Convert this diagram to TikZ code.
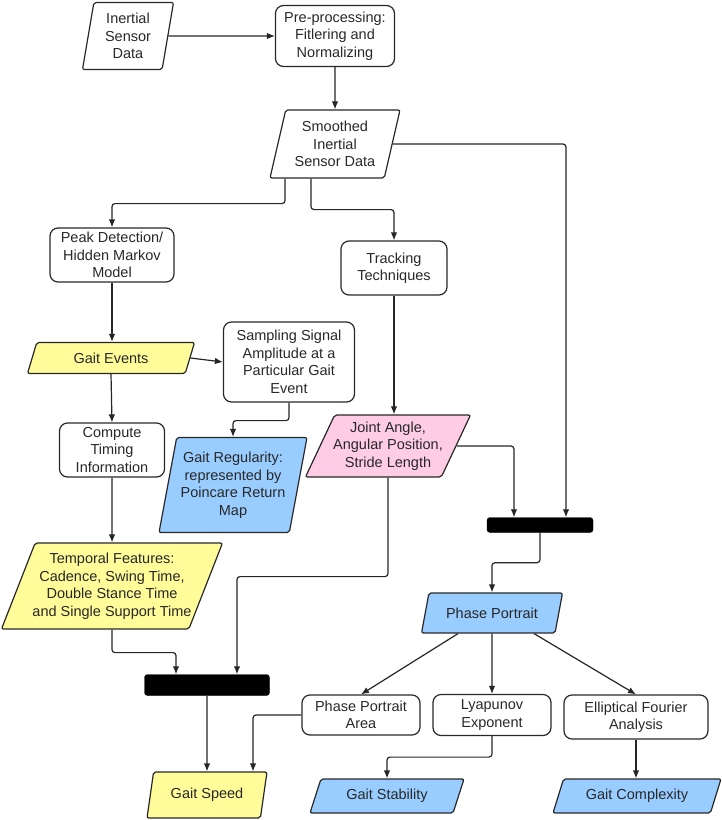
\documentclass[tikz,border=0pt]{standalone}
\usepackage{fontspec}
\setmainfont{Liberation Sans}
\usetikzlibrary{shapes.geometric,arrows.meta}
\definecolor{evyellow}{RGB}{255,252,153}
\definecolor{ppblue}{RGB}{153,204,255}
\definecolor{jnpink}{RGB}{255,204,230}
\definecolor{txtgray}{RGB}{40,40,40}
\tikzset{
  procbox/.style={draw=txtgray,line width=1.2pt,rounded corners=8pt,align=center,
    inner xsep=2pt,inner ysep=0pt,text=txtgray},
  databox/.style 2 args={draw=txtgray,line width=1.2pt,trapezium,trapezium stretches body,
    trapezium left angle=#1,trapezium right angle=#2,rounded corners=2pt,align=center,
    inner xsep=-15pt,inner ysep=0pt,text=txtgray},
  joinbar/.style={draw=black,fill=black,rounded corners=3pt,inner sep=0pt},
  conn/.style={draw=black!85,line width=1.2pt,rounded corners=3pt,-{Latex[length=8pt,width=6.5pt]}},
}
\begin{document}
\begin{tikzpicture}[x=1pt,y=1pt,font=\fontsize{14.5}{17.5}\selectfont]
\useasboundingbox (0,0) rectangle (722,-820);
% sensor data and filtering:
\node[databox={76}{104},minimum width=91,minimum height=67] (isd) at (128,-36) {Inertial\\Sensor\\Data};
\node[procbox,minimum width=119,minimum height=61] (pre) at (335,-36) {Pre-processing:\\Fitlering and\\Normalizing};
\node[databox={71}{109},minimum width=130,minimum height=68] (smooth) at (335,-144) {Smoothed\\Inertial\\Sensor Data};
% left branch:
\node[procbox,minimum width=124,minimum height=54] (peak) at (112,-255) {Peak Detection/\\Hidden Markov\\Model};
\node[databox={49}{131},minimum width=167,minimum height=31,fill=evyellow] (events) at (111,-358) {Gait Events};
\node[procbox,minimum width=131,minimum height=80] (sampling) at (289,-362) {Sampling Signal\\Amplitude at a\\Particular Gait\\Event};
\node[procbox,minimum width=105,minimum height=54] (compute) at (112,-450) {Compute\\Timing\\Information};
\node[databox={75}{105},minimum width=148,minimum height=95,fill=ppblue] (regular) at (233,-485) {Gait Regularity:\\represented by\\Poincare Return\\Map};
\node[databox={63}{117},minimum width=221,minimum height=86,fill=evyellow] (temporal) at (112,-586) {Temporal Features:\\Cadence, Swing Time,\\Double Stance Time\\and Single Support Time};
% right branch:
\node[procbox,minimum width=106,minimum height=54] (track) at (394,-268) {Tracking\\Techniques};
\node[databox={59}{121},minimum width=165,minimum height=62,fill=jnpink] (joint) at (388,-446) {Joint Angle,\\Angular Position,\\Stride Length};
\node[joinbar,minimum width=106,minimum height=15] (barB) at (540,-525) {};
\node[databox={55}{125},minimum width=141,minimum height=40,fill=ppblue] (portrait) at (492,-613) {Phase Portrait};
% outputs:
\node[joinbar,minimum width=125,minimum height=21] (barA) at (207,-685) {};
\node[procbox,minimum width=118,minimum height=40] (area) at (361,-715) {Phase Portrait\\Area};
\node[procbox,minimum width=118,minimum height=41] (lyap) at (492,-715) {Lyapunov\\Exponent};
\node[procbox,minimum width=144,minimum height=44] (efa) at (636,-717) {Elliptical Fourier\\Analysis};
\node[databox={64}{116},minimum width=120,minimum height=46,fill=evyellow] (speed) at (207,-795) {Gait Speed};
\node[databox={51}{129},minimum width=154,minimum height=34,fill=ppblue] (stability) at (387,-796) {Gait Stability};
\node[databox={52}{128},minimum width=168,minimum height=34,fill=ppblue] (complexity) at (637,-796) {Gait Complexity};
% connectors:
\draw[conn] (isd.east) -- (pre.west);
\draw[conn] (pre.south) -- (smooth.north);
\draw[conn] ([xshift=-50pt]smooth.south) -- ++(0,-25) -| (peak.north);
\draw[conn] ([xshift=-24pt]smooth.south) -- ++(0,-31) -| (track.north);
\draw[conn] (smooth.east) -| ([xshift=26pt]barB.north);
\draw[conn] (peak.south) -- (peak.south |- events.north);
\draw[conn] (events.east) -- (sampling.west);
\draw[conn] (events.south) -- (compute.north);
\draw[conn] (compute.south) -- (temporal.north);
\draw[conn] (sampling.south) -- ++(0,-18) -| (regular.north);
\draw[conn] (track.south) -- (track.south |- joint.north);
\draw[conn] (joint.east) -| ([xshift=-26pt]barB.north);
\draw[conn] (barB.south) -- ++(0,-30) -| (portrait.north);
\draw[conn] (joint.south) -- ++(0,-99) -| ([xshift=30pt]barA.north);
\draw[conn] (temporal.south) -- ++(0,-23) -| ([xshift=-31pt]barA.north);
\draw[conn] (barA.south) -- (speed.north);
\draw[conn] (area.west) -| ([xshift=46pt]speed.north);
\draw[conn] ([xshift=-34pt]portrait.south) -- (area.north);
\draw[conn] (portrait.south) -- (lyap.north);
\draw[conn] ([xshift=42pt]portrait.south) -- (efa.north);
\draw[conn] (lyap.south) -- ++(0,-21) -| (stability.north);
\draw[conn] (efa.south) -- (efa.south |- complexity.north);
\end{tikzpicture}
\end{document}
